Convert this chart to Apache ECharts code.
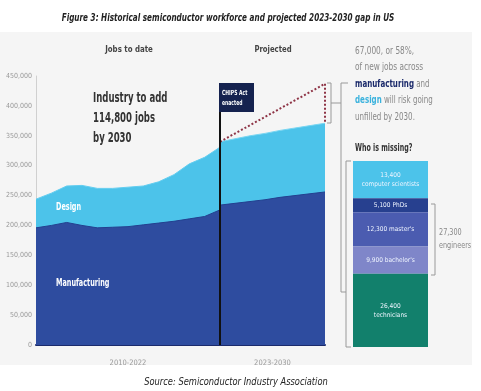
<!DOCTYPE html>
<html><head><meta charset="utf-8">
<script src="https://cdn.jsdelivr.net/npm/echarts@6/dist/echarts.min.js"></script>
<style>html,body{margin:0;padding:0;background:#fff}#c{width:481px;height:391px}</style>
</head><body><div id="c"></div>
<script>
// ---- data ----
const histYears = [2010,2011,2012,2013,2014,2015,2016,2017,2018,2019,2020,2021,2022];
const histTotal = [244000,254000,266000,267000,262000,262000,264000,266000,273000,285000,303000,314000,331000];
const histManufacturing = [196000,200000,205000,200000,196000,197000,198000,201000,204000,207000,211000,215000,226000];
const projYears = [2023,2024,2025,2026,2027,2028,2029,2030];
const projTotal = [340000,345000,350000,354000,359000,363000,367000,371000];
const projManufacturing = [234000,237000,240000,243000,247000,250000,253000,256000];
const gapYears = [2023,2030,2030];
const gapValues = [340000,437000,371000];
const yTicks = [0,50000,100000,150000,200000,250000,300000,350000,400000,450000];
const missingCats = ['computer scientists','PhDs',"master's","bachelor's",'technicians'];
const missingValues = [13400,5100,12300,9900,26400];

const F = "'Liberation Sans Narrow','DejaVu Sans Condensed','Liberation Sans',sans-serif";
const cDesign = '#4cc3ea', cManu = '#2e4c9f';
const missingColors = ['#4cc3ea','#27408f','#4b5cb0','#7f86c9','#12806c'];
const fmt = v => v.toLocaleString('en-US');
const zip = (a,b) => a.map((x,i)=>[x,b[i]]);

function txt(x, y, text, font, fill, sx, extra) {
  return Object.assign({type:'text', x:x, y:y, scaleX:sx||1, z:10,
    style:Object.assign({text:text, font:font, fill:fill}, extra||{})});
}

const yAxisBase = {type:'value', min:0, max:450000, interval:50000, splitLine:{show:false}, axisTick:{show:false}};

const chart = echarts.init(document.getElementById('c'));
chart.setOption({
  backgroundColor:'#fff',
  animation:false,
  grid:[
    {left:36, top:76, width:184, height:269},
    {left:220, top:76, width:105, height:269},
    {left:353, top:161, width:75, height:186}
  ],
  xAxis:[
    {gridIndex:0, type:'value', min:2010, max:2022, axisLabel:{show:false}, axisTick:{show:false}, splitLine:{show:false},
     axisLine:{lineStyle:{color:'#1b2a6b', width:2}}, name:'2010-2022', nameLocation:'middle', nameGap:14,
     nameTextStyle:{color:'#999', fontSize:7.5, fontFamily:F}},
    {gridIndex:1, type:'value', min:2023, max:2030, axisLabel:{show:false}, axisTick:{show:false}, splitLine:{show:false},
     axisLine:{lineStyle:{color:'#1b2a6b', width:2}}, name:'2023-2030', nameLocation:'middle', nameGap:14,
     nameTextStyle:{color:'#999', fontSize:7.5, fontFamily:F}},
    {gridIndex:2, type:'category', data:['Who is missing?'], show:false}
  ],
  yAxis:[
    Object.assign({gridIndex:0, axisLine:{show:true, lineStyle:{color:'#d0d0d0', width:1}},
      axisLabel:{color:'#999', fontSize:7, fontFamily:F, margin:4, formatter: v => yTicks.includes(v) ? fmt(v) : ''}}, yAxisBase),
    Object.assign({gridIndex:1, show:false}, yAxisBase),
    {gridIndex:2, type:'value', min:0, max:missingValues.reduce((a,b)=>a+b,0), inverse:true, show:false}
  ],
  series:[
    {name:'Design', type:'line', xAxisIndex:0, yAxisIndex:0, data:zip(histYears,histTotal), symbol:'none',
     lineStyle:{color:'#62cdf0', width:1}, areaStyle:{color:cDesign, opacity:1}, z:2},
    {name:'Manufacturing', type:'line', xAxisIndex:0, yAxisIndex:0, data:zip(histYears,histManufacturing), symbol:'none',
     lineStyle:{color:'#23408f', width:1}, areaStyle:{color:cManu, opacity:1}, z:3},
    {name:'Design projected', type:'line', xAxisIndex:1, yAxisIndex:1, data:zip(projYears,projTotal), symbol:'none',
     lineStyle:{color:'#7ad6f2', width:1}, areaStyle:{color:cDesign, opacity:1}, z:2},
    {name:'Manufacturing projected', type:'line', xAxisIndex:1, yAxisIndex:1, data:zip(projYears,projManufacturing), symbol:'none',
     lineStyle:{color:'#23408f', width:1}, areaStyle:{color:cManu, opacity:1}, z:3},
    {name:'Gap', type:'line', xAxisIndex:1, yAxisIndex:1, data:zip(gapYears,gapValues), symbol:'none',
     lineStyle:{color:'#8e3446', width:2, type:[2,2]}, z:4},
  ].concat(missingCats.map((c,i)=>({
     name:c, type:'bar', xAxisIndex:2, yAxisIndex:2, stack:'m', barWidth:'100%',
     data:[missingValues[i]], itemStyle:{color:missingColors[i]},
     label:{show:true, position:'inside', color:'#eef4ff', fontSize:6.5, fontFamily:F, lineHeight:9,
       formatter: (i===0||i===4) ? fmt(missingValues[i])+'\n'+c : fmt(missingValues[i])+' '+c}
  }))),
  graphic:[
    {type:'rect', z:-10, shape:{x:0,y:32,width:472,height:333}, style:{fill:'#f5f5f5'}},
    txt(228, 18, 'Figure 3: Historical semiconductor workforce and projected 2023-2030 gap in US', "italic bold 10.5px "+F, '#222', 0.77, {align:'center', verticalAlign:'middle'}),
    txt(129, 50, 'Jobs to date', "bold 8.5px "+F, '#444', 0.92, {align:'center', verticalAlign:'middle'}),
    txt(273, 50, 'Projected', "bold 8.5px "+F, '#444', 0.9, {align:'center', verticalAlign:'middle'}),
    txt(93, 88, 'Industry to add\n114,800 jobs\nby 2030', "bold 14px "+F, '#333', 0.68, {lineHeight:20}),
    txt(56, 207, 'Design', "bold 10px "+F, '#fff', 0.72, {verticalAlign:'middle'}),
    txt(56, 283, 'Manufacturing', "bold 10px "+F, '#fff', 0.72, {verticalAlign:'middle'}),
    // CHIPS flag
    {type:'line', z:10, shape:{x1:220,y1:83,x2:220,y2:345}, style:{stroke:'#111', lineWidth:2}},
    {type:'rect', z:10, shape:{x:219,y:83,width:35,height:29}, style:{fill:'#15224f'}},
    txt(222, 88, 'CHIPS Act\nenacted', "bold 7px "+F, '#fff', 0.72, {lineHeight:10}),
    // right panel
    txt(355, 43, '67,000, or 58%,\nof new jobs across', "10px "+F, '#888', 0.82, {lineHeight:16.5}),
    txt(355, 76, '{m|manufacturing} and\n{d|design} will risk going\nunfilled by 2030.', "10px "+F, '#888', 0.79, {lineHeight:16.5,
      rich:{m:{font:"bold 10px "+F, fill:'#1b2a6b', lineHeight:16.5}, d:{font:"bold 10px "+F, fill:'#3ab2dd', lineHeight:16.5}}}),
    txt(355, 148, 'Who is missing?', "bold 11px "+F, '#333', 0.64, {verticalAlign:'middle'}),
    txt(439, 226, '27,300\nengineers', "9.5px "+F, '#888', 0.76, {lineHeight:13}),
    // brackets
    {type:'polyline', shape:{points:[[327,83],[331,83],[331,123],[327,123]]}, style:{stroke:'#999', lineWidth:1, fill:null}},
    {type:'polyline', shape:{points:[[331,103],[341,103]]}, style:{stroke:'#999', lineWidth:1, fill:null}},
    {type:'polyline', shape:{points:[[348,83],[341,83],[341,292],[346,292]]}, style:{stroke:'#999', lineWidth:1, fill:null}},
    {type:'polyline', shape:{points:[[351,161],[346,161],[346,347],[351,347]]}, style:{stroke:'#999', lineWidth:1, fill:null}},
    {type:'polyline', shape:{points:[[431,204],[435,204],[435,275],[431,275]]}, style:{stroke:'#999', lineWidth:1, fill:null}},
    txt(236, 382, 'Source: Semiconductor Industry Association', "italic 10.5px "+F, '#222', 0.88, {align:'center', verticalAlign:'middle'})
  ]
});
</script></body></html>
